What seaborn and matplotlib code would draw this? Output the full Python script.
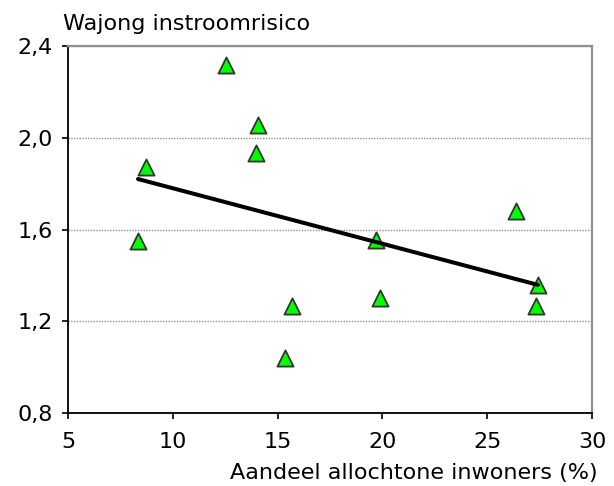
import numpy as np
import pandas as pd
import matplotlib
matplotlib.use("Agg")
import matplotlib.pyplot as plt
import seaborn as sns

# Data
allochtoon = [8.34, 8.72, 12.54, 14.06, 13.97, 15.35, 15.69, 19.69, 19.89, 26.37, 27.42, 27.33]
instroom = [1.548, 1.871, 2.317, 2.055, 1.932, 1.04, 1.268, 1.556, 1.303, 1.679, 1.36, 1.268]

x_ticks = [5, 10, 15, 20, 25, 30]
x_tick_labels = ["5", "10", "15", "20", "25", "30"]
y_ticks = [0.8, 1.2, 1.6, 2.0, 2.4]
y_tick_labels = ["0,8", "1,2", "1,6", "2,0", "2,4"]

df = pd.DataFrame({"allochtoon": allochtoon, "instroom": instroom})

sns.set_style("white")
plt.rcParams['font.family'] = ['DejaVu Sans']
plt.rcParams['text.color'] = 'black'

fig = plt.figure(figsize=(6.14, 4.86), dpi=100)
ax = fig.add_axes([68 / 614, 1 - 413 / 486, (592 - 68) / 614, (413 - 46) / 486])

# grid
for yv in y_ticks[1:]:
    ax.axhline(yv, color="#909090", lw=1.0, ls=(0, (1, 1)), zorder=0)

sns.regplot(data=df, x="allochtoon", y="instroom", ax=ax, ci=None,
            marker="^",
            scatter_kws=dict(s=135, color="#00ff00", edgecolors="#333333",
                             linewidths=1.3, alpha=1, zorder=3),
            line_kws=dict(color="black", lw=2.9, zorder=4))

ax.set_xlim(5, 30)
ax.set_ylim(0.8, 2.4)
ax.set_xticks(x_ticks)
ax.set_xticklabels(x_tick_labels)
ax.set_yticks(y_ticks)
ax.set_yticklabels(y_tick_labels)
ax.set_xlabel("")
ax.set_ylabel("")

ax.tick_params(axis="both", direction="out", length=4, width=1.2,
               color="black", labelsize=16, labelcolor="black")
ax.tick_params(axis="x", pad=10)
ax.tick_params(axis="y", pad=7)
ax.xaxis.set_ticks_position("bottom")
ax.yaxis.set_ticks_position("left")

for side in ["left", "bottom"]:
    ax.spines[side].set_color("black")
    ax.spines[side].set_linewidth(1.3)
for side in ["top", "right"]:
    ax.spines[side].set_visible(True)
    ax.spines[side].set_color("#909090")
    ax.spines[side].set_linewidth(1.6)

fig.text(63 / 614, 1 - 30 / 486, "Wajong instroomrisico", fontsize=16,
         ha="left", va="baseline", color="black")
fig.text(598 / 614, 1 - 479 / 486, "Aandeel allochtone inwoners (%)",
         fontsize=16, ha="right", va="baseline", color="black")

fig.savefig("out.png", dpi=100)
